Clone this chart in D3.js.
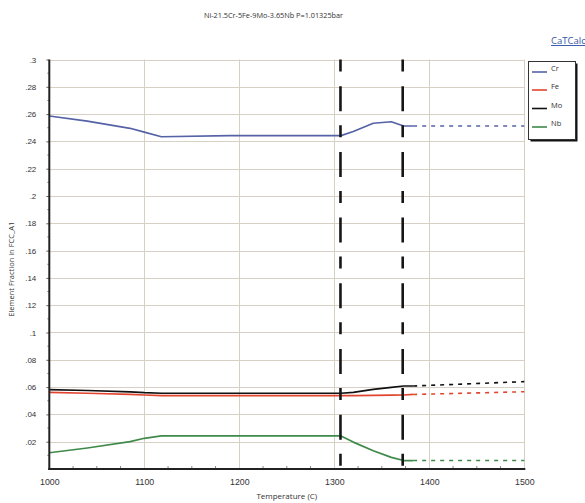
<!DOCTYPE html>
<html>
<head>
<meta charset="utf-8">
<script src="https://cdn.jsdelivr.net/npm/d3@7"></script>
<style>
  html, body { margin: 0; padding: 0; background: #fff; }
  svg { display: block; font-family: "Open Sans", "Noto Sans", sans-serif; }
</style>
</head>
<body>
<svg id="chart" width="585" height="503"></svg>
<script>
// Equilibrium composition of the FCC_A1 phase vs. temperature
const chartTitle = "Ni-21.5Cr-5Fe-9Mo-3.65Nb P=1.01325bar";
const elements = ["Cr", "Fe", "Mo", "Nb"];
const colors = ["#5563a6", "#e2452f", "#111111", "#3f8a4a"];

// stable region (solid lines)
const temps = [1000, 1040, 1085, 1100, 1118, 1190, 1307, 1320, 1341, 1360, 1373, 1383];
const crFrac = [0.2586, 0.2548, 0.2496, 0.2468, 0.2434, 0.2442, 0.2442, 0.2473, 0.2533, 0.2544, 0.2513, 0.2513];
const feFrac = [0.0562, 0.0555, 0.0546, 0.0542, 0.0537, 0.0537, 0.0537, 0.0538, 0.0540, 0.0541, 0.0542, 0.0546];
const moFrac = [0.0582, 0.0575, 0.0565, 0.0559, 0.0555, 0.0555, 0.0555, 0.0562, 0.0583, 0.0598, 0.0608, 0.0608];
const nbFrac = [0.0119, 0.0154, 0.0200, 0.0225, 0.0242, 0.0242, 0.0242, 0.0197, 0.0134, 0.0085, 0.0062, 0.0062];

// extension above the liquidus (dashed lines)
const extTemps = [1383, 1500];
const crExt = [0.2513, 0.2513];
const feExt = [0.0546, 0.0566];
const moExt = [0.0608, 0.0640];
const nbExt = [0.0062, 0.0062];

// phase boundaries (dash-dot verticals)
const boundaries = [1306.5, 1372];

// axes
const xTicks = [1000, 1100, 1200, 1300, 1400, 1500];
const yTicks = [0.02, 0.04, 0.06, 0.08, 0.10, 0.12, 0.14, 0.16, 0.18, 0.20, 0.22, 0.24, 0.26, 0.28, 0.30];
const xLabel = "Temperature (C)";
const yLabel = "Element Fraction in FCC_A1";

const svg = d3.select("#chart");
const plot = { left: 49.3, right: 524.3, top: 59.5, bottom: 469 };

const x = d3.scaleLinear().domain([1000, 1500]).range([plot.left, plot.right]);
const y = d3.scaleLinear().domain([0, 0.3]).range([plot.bottom, plot.top]);

// grid
const grid = svg.append("g").attr("stroke", "#d6d1c4").attr("stroke-width", 1);
grid.selectAll("line.h").data(yTicks).join("line")
  .attr("x1", plot.left).attr("x2", plot.right)
  .attr("y1", d => Math.round(y(d)) + 0.5).attr("y2", d => Math.round(y(d)) + 0.5);
grid.selectAll("line.v").data(xTicks.slice(1)).join("line")
  .attr("y1", plot.top).attr("y2", plot.bottom)
  .attr("x1", d => Math.round(x(d)) + 0.5).attr("x2", d => Math.round(x(d)) + 0.5);

// series
const series = [
  { name: "Cr", vals: crFrac, ext: crExt },
  { name: "Fe", vals: feFrac, ext: feExt },
  { name: "Mo", vals: moFrac, ext: moExt },
  { name: "Nb", vals: nbFrac, ext: nbExt }
];
const line = d3.line().x(d => x(d[0])).y(d => y(d[1]));

series.forEach((s, i) => {
  svg.append("path")
    .attr("d", line(extTemps.map((t, k) => [t, s.ext[k]])))
    .attr("fill", "none").attr("stroke", colors[i]).attr("stroke-width", 1.6)
    .attr("stroke-dasharray", "4 5");
});
// Fe first so Mo is drawn over it where they nearly touch
[1, 0, 3, 2].forEach(i => {
  const s = series[i];
  svg.append("path")
    .attr("d", line(temps.map((t, k) => [t, s.vals[k]])))
    .attr("fill", "none").attr("stroke", colors[i]).attr("stroke-width", 1.7)
    .attr("stroke-linejoin", "round");
});

// phase boundaries
svg.append("g").selectAll("line").data(boundaries).join("line")
  .attr("x1", d => x(d)).attr("x2", d => x(d))
  .attr("y1", plot.top).attr("y2", plot.bottom)
  .attr("stroke", "#161616").attr("stroke-width", 2.6)
  .attr("stroke-dasharray", "12 14.7 25 14");

// axes
const yAxis = d3.axisLeft(y).tickValues(yTicks).tickSize(3).tickPadding(10)
  .tickFormat(d => d3.format(".2f")(d).replace(/^0/, "").replace(/0$/, ""));
const gy = svg.append("g").attr("transform", `translate(${plot.left},0)`).call(yAxis);
gy.select(".domain").remove();
gy.selectAll(".tick line").attr("stroke", "#666");
gy.selectAll("text").attr("font-size", 8).attr("fill", "#333");

const yMinor = d3.range(0.01, 0.3, 0.02);
svg.append("g").selectAll("line").data(yMinor).join("line")
  .attr("x1", plot.left - 2).attr("x2", plot.left)
  .attr("y1", d => y(d)).attr("y2", d => y(d)).attr("stroke", "#888");

const xAxis = d3.axisBottom(x).tickValues(xTicks).tickSize(0).tickPadding(10).tickFormat(d3.format("d"));
const gx = svg.append("g").attr("transform", `translate(0,${plot.bottom})`).call(xAxis);
gx.select(".domain").remove();
gx.selectAll("text").attr("font-size", 8.8).attr("fill", "#333");

const xMinor = d3.range(1025, 1500, 25).filter(t => t % 100 !== 0);
svg.append("g").selectAll("line").data(xMinor).join("line")
  .attr("x1", d => x(d)).attr("x2", d => x(d))
  .attr("y1", plot.bottom - 3).attr("y2", plot.bottom).attr("stroke", "#888");

// axis frame lines
svg.append("line").attr("x1", plot.left).attr("x2", plot.left)
  .attr("y1", plot.top).attr("y2", plot.bottom + 1)
  .attr("stroke", "#222").attr("stroke-width", 2);
svg.append("line").attr("x1", plot.left - 1).attr("x2", plot.right + 1)
  .attr("y1", plot.bottom).attr("y2", plot.bottom)
  .attr("stroke", "#222").attr("stroke-width", 2);

// titles
svg.append("text").attr("x", 273.5).attr("y", 17.5).attr("text-anchor", "middle")
  .attr("font-size", 7.3).attr("fill", "#333").text(chartTitle);
svg.append("text").attr("x", (plot.left + plot.right) / 2).attr("y", 499)
  .attr("text-anchor", "middle").attr("font-size", 8).attr("fill", "#333").text(xLabel);
svg.append("text").attr("transform", `translate(14,${(plot.top + plot.bottom) / 2 + 5}) rotate(-90)`)
  .attr("text-anchor", "middle").attr("font-size", 7.5).attr("fill", "#333").text(yLabel);

svg.append("text").attr("x", 551).attr("y", 44).attr("font-size", 9.5)
  .attr("fill", "#3355aa").attr("text-decoration", "underline").text("CaTCalc");

// legend
const lg = svg.append("g").attr("transform", "translate(528,61)");
lg.append("rect").attr("x", 2.5).attr("y", 2.5).attr("width", 47).attr("height", 78).attr("fill", "#111");
lg.append("rect").attr("x", 0.5).attr("y", 0.5).attr("width", 47).attr("height", 78)
  .attr("fill", "#fff").attr("stroke", "#333").attr("stroke-width", 1);
const rowY = [11, 29, 47.5, 66];
elements.forEach((e, i) => {
  lg.append("line").attr("x1", 4).attr("x2", 19).attr("y1", rowY[i]).attr("y2", rowY[i])
    .attr("stroke", colors[i]).attr("stroke-width", 1.6);
  lg.append("text").attr("x", 23).attr("y", rowY[i] - 1).attr("font-size", 7.5).attr("fill", "#333").text(e);
});
</script>
</body>
</html>
